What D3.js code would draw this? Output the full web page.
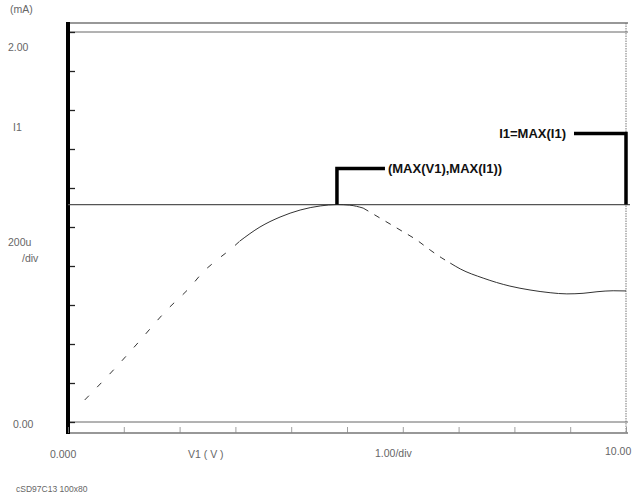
<!DOCTYPE html>
<html>
<head>
<meta charset="utf-8">
<script src="https://cdn.jsdelivr.net/npm/d3@7"></script>
<style>
  html, body { margin: 0; padding: 0; background: #fff; }
  svg { display: block; }
  .lbl { font-family: "Liberation Sans", Arial, sans-serif; font-size: 10.5px; fill: #666; }
  .mk { font-family: "Liberation Sans Narrow", "Liberation Sans", Arial, sans-serif; font-size: 13px; font-weight: bold; fill: #111; }
</style>
</head>
<body>
<svg id="chart" width="641" height="495"></svg>
<script>
// Sweep of V1 (volts) and measured current I1 (mA)
const v1 = [0.30, 0.88, 1.22, 1.77, 2.19, 2.42, 2.67, 2.96, 3.08, 3.44, 3.80, 4.16, 4.52, 4.82,
            5.05, 5.29, 5.65, 5.95, 6.25, 6.49, 6.70, 6.85, 7.03, 7.44, 7.92, 8.28, 8.64, 8.94,
            9.23, 9.48, 9.77, 10.00];
const i1 = [0.113, 0.287, 0.395, 0.574, 0.692, 0.769, 0.831, 0.897, 0.928, 1.000, 1.051, 1.087, 1.108, 1.115,
            1.112, 1.097, 1.036, 0.985, 0.933, 0.882, 0.841, 0.815, 0.785, 0.738, 0.697, 0.677, 0.663, 0.657,
            0.660, 0.668, 0.673, 0.672];

// Axis settings
const xDomain = [0, 10];
const yDomain = [0, 2];
const xDivisions = 10;
const yDivisions = 10;

// Texts around the plot
const yUnit = "(mA)";
const yTopLabel = "2.00";
const yName = "I1";
const yPerDiv = ["200u", "/div"];
const yBottomLabel = "0.00";
const xLeftLabel = "0.000";
const xName = "V1 ( V )";
const xPerDiv = "1.00/div";
const xRightLabel = "10.00";
const footer = "cSD97C13  100x80";
const markerPeak = "(MAX(V1),MAX(I1))";
const markerLevel = "I1=MAX(I1)";

const svg = d3.select("#chart");

const frame = { left: 68, right: 626, top: 23, bottom: 433 };
const x = d3.scaleLinear().domain(xDomain).range([frame.left, frame.right]);
const y = d3.scaleLinear().domain(yDomain).range([422, 32]);

// Frame and limit lines
svg.append("line").attr("x1", frame.left).attr("x2", frame.right + 2)
  .attr("y1", frame.top).attr("y2", frame.top).attr("stroke", "#333").attr("stroke-width", 1.2);
svg.append("line").attr("x1", frame.left).attr("x2", frame.right + 2)
  .attr("y1", y(yDomain[1])).attr("y2", y(yDomain[1])).attr("stroke", "#666").attr("stroke-width", 1);
svg.append("line").attr("x1", frame.left).attr("x2", frame.right + 2)
  .attr("y1", y(yDomain[0])).attr("y2", y(yDomain[0])).attr("stroke", "#666").attr("stroke-width", 1);
svg.append("line").attr("x1", frame.left).attr("x2", frame.right + 2)
  .attr("y1", frame.bottom).attr("y2", frame.bottom).attr("stroke", "#333").attr("stroke-width", 1.2);
svg.append("line").attr("x1", frame.right).attr("x2", frame.right)
  .attr("y1", frame.top).attr("y2", frame.bottom).attr("stroke", "#777").attr("stroke-width", 1)
  .attr("stroke-dasharray", "1.5,1");

// Left axis: heavy bar with division ticks
const yAxis = d3.axisRight(y).ticks(yDivisions).tickSize(7).tickFormat("");
const ya = svg.append("g").attr("transform", `translate(${frame.left},0)`).call(yAxis);
ya.select(".domain").remove();
ya.selectAll(".tick line").attr("stroke", "#222").attr("stroke-width", 1.3);
svg.append("line").attr("x1", frame.left).attr("x2", frame.left)
  .attr("y1", frame.top - 1).attr("y2", frame.bottom + 1).attr("stroke", "#000").attr("stroke-width", 4);

// Bottom axis division ticks
const xAxis = d3.axisTop(x).ticks(xDivisions).tickSize(6).tickFormat("");
const xa = svg.append("g").attr("transform", `translate(0,${frame.bottom})`).call(xAxis);
xa.select(".domain").remove();
xa.selectAll(".tick line").attr("stroke", "#888").attr("stroke-width", 0.8);

// Maximum level line
const iMax = d3.max(i1);
const vAtMax = v1[d3.maxIndex(i1)];
svg.append("line").attr("x1", frame.left).attr("x2", frame.right + 4)
  .attr("y1", y(iMax)).attr("y2", y(iMax)).attr("stroke", "#555").attr("stroke-width", 1.2);

// Measured curve, traced in pieces the way the plotter left it
const pts = v1.map((v, k) => [v, i1[k]]);
const line = d3.line().x(d => x(d[0])).y(d => y(d[1])).curve(d3.curveMonotoneX);
const pieces = [
  { from: 0, to: 9, dash: "6,12" },
  { from: 8, to: 16, dash: null },
  { from: 15, to: 22, dash: "6,7" },
  { from: 21, to: v1.length, dash: null }
];
pieces.forEach(p => {
  svg.append("path").datum(pts.slice(p.from, p.to))
    .attr("d", line).attr("fill", "none").attr("stroke", "#333").attr("stroke-width", 1)
    .attr("stroke-dasharray", p.dash);
});

// Marker at the peak point
const px = x(vAtMax), py = y(iMax);
svg.append("path")
  .attr("d", `M${px},${py} V${py - 36} H${px + 48}`)
  .attr("fill", "none").attr("stroke", "#000").attr("stroke-width", 3.5);
svg.append("text").attr("class", "mk").attr("x", px + 51).attr("y", py - 32).text(markerPeak);

// Marker for the maximum level at the right edge
const rx = x(xDomain[1]);
svg.append("path")
  .attr("d", `M${rx},${py} V${py - 71} H${rx - 52}`)
  .attr("fill", "none").attr("stroke", "#000").attr("stroke-width", 3.5);
svg.append("text").attr("class", "mk").attr("x", rx - 60).attr("y", py - 67)
  .attr("text-anchor", "end").text(markerLevel);

// Scale texts
const t = (tx, ty, s, anchor) => svg.append("text").attr("class", "lbl")
  .attr("x", tx).attr("y", ty).attr("text-anchor", anchor || "start").text(s);
t(10, 13, yUnit);
t(8, 51, yTopLabel);
t(13, 131, yName);
t(8, 246, yPerDiv[0]);
t(22, 262, yPerDiv[1]);
t(13, 428, yBottomLabel);
t(50, 458, xLeftLabel);
t(188, 458, xName);
t(375, 457, xPerDiv);
t(605, 455, xRightLabel);
svg.append("text").attr("class", "lbl").attr("x", 16).attr("y", 492)
  .style("font-size", "8.5px").text(footer);
</script>
</body>
</html>
